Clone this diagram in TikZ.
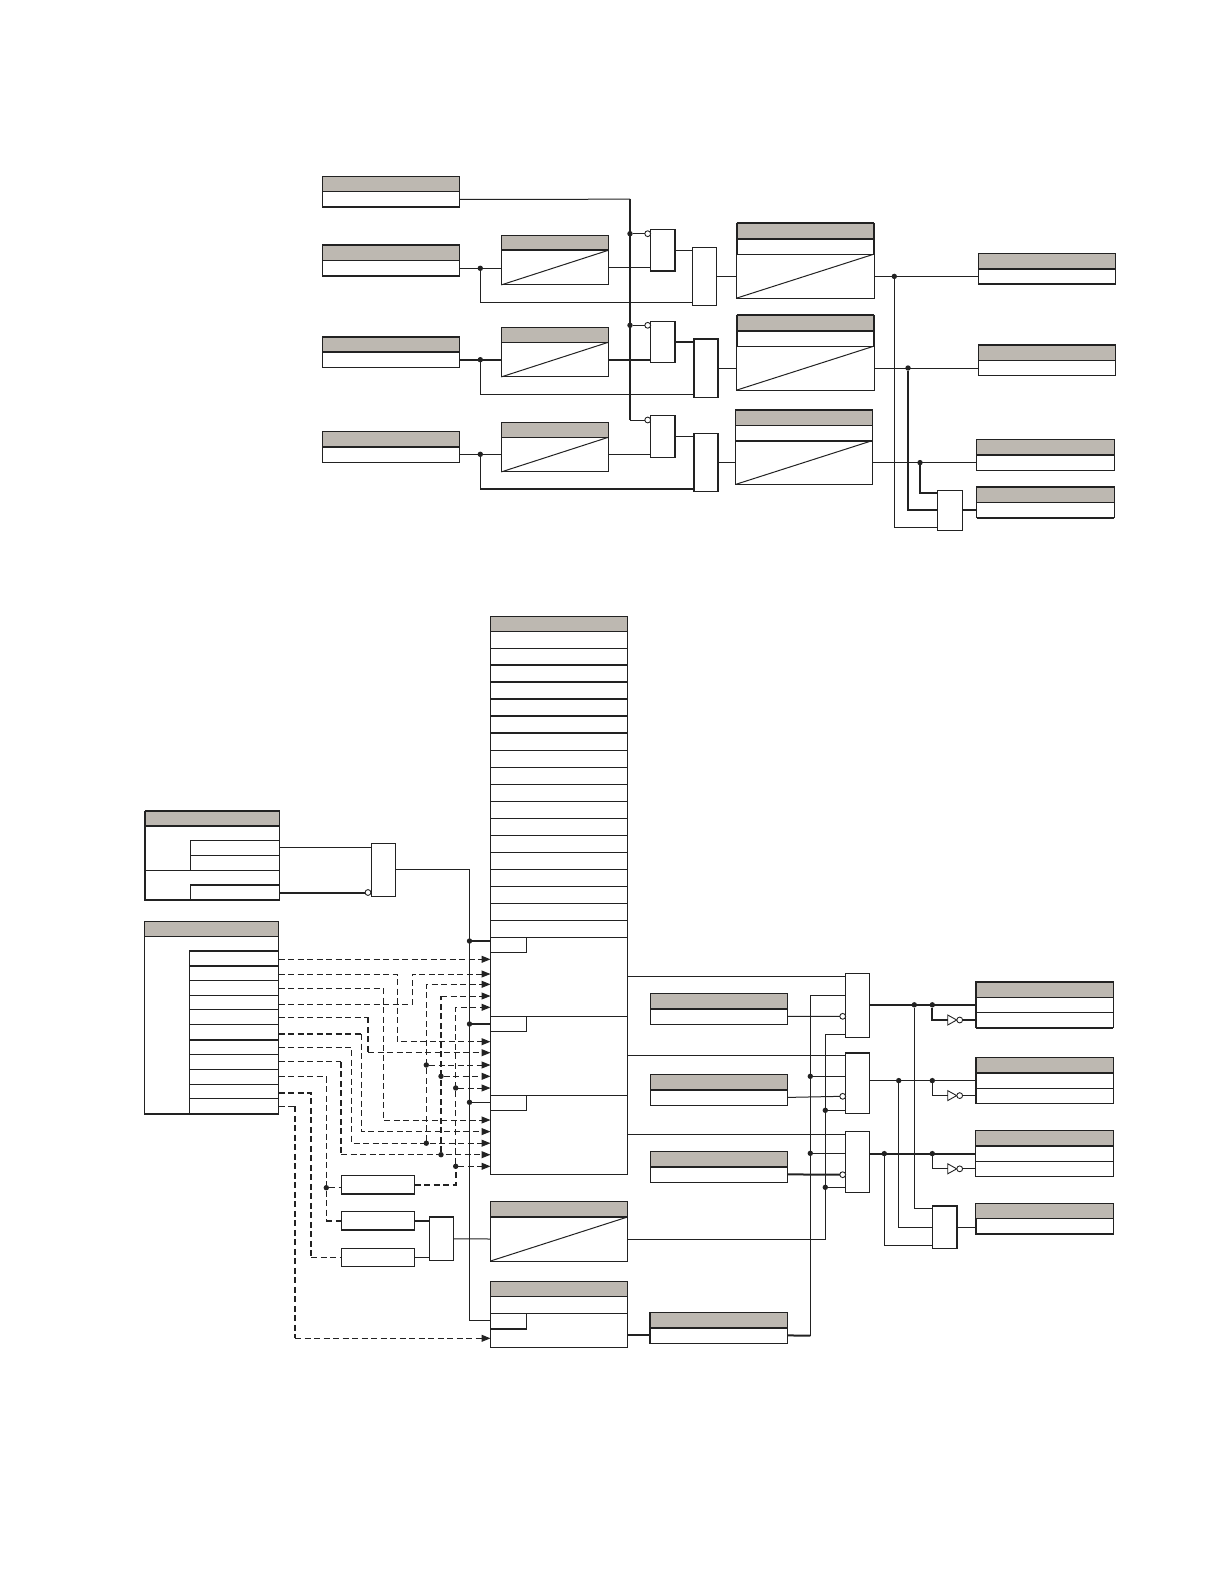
\documentclass[tikz,border=0pt]{standalone}
\usepackage{tikz}
\usetikzlibrary{arrows.meta, shapes.geometric, positioning}
\definecolor{headgray}{HTML}{BDB8B1}
\definecolor{inkgray}{HTML}{222222}
\begin{document}
\begin{tikzpicture}[
  x=1pt, y=-1pt,
  base/.style={draw=inkgray, line width=1pt, inner sep=0pt, outer sep=0pt},
  head/.style={base, fill=headgray, minimum width=137.4pt, minimum height=15.4pt, anchor=north west},
  cell/.style={base, fill=white, minimum width=137.4pt, minimum height=15.4pt},
  rhead/.style={head, minimum width=107pt, minimum height=15pt},
  rbody/.style={cell, minimum width=107pt, minimum height=34.6pt},
  lbody/.style={cell, minimum height=44pt},
  gate/.style={base, fill=white, minimum width=24.5pt, anchor=north west},
  mrow/.style={cell, minimum height=17pt},
  frow/.style={cell, minimum width=89.4pt, minimum height=14.82pt},
  small/.style={base, fill=white, minimum width=73.4pt, anchor=north west},
  sub/.style={base, fill=white, minimum width=36pt, minimum height=15.2pt, anchor=north west},
  dot/.style={circle, fill=inkgray, inner sep=0pt, outer sep=0pt, minimum size=5.4pt},
  bub/.style={circle, draw=inkgray, line width=0.9pt, fill=white, inner sep=0pt, outer sep=0pt, minimum size=5.8pt},
  inv/.style={isosceles triangle, isosceles triangle stretches, draw=inkgray, line width=0.9pt, fill=white,
    inner sep=0pt, outer sep=0pt, minimum width=10pt, minimum height=9pt, anchor=west},
  wire/.style={draw=inkgray, line width=1pt},
  heavy/.style={draw=inkgray, line width=2pt},
  sig/.style={draw=inkgray, line width=1pt, dash pattern=on 6pt off 3.5pt},
  sigh/.style={draw=inkgray, line width=2pt, dash pattern=on 6pt off 3.5pt},
  >={Triangle[length=9pt,width=7pt]}
]
\useasboundingbox (0,0) rectangle (1224,1584);

\node[head] (tA) at (322.3,176.3) {};
\node[cell, below=0pt of tA] (tAv) {};
\node[head] (tB) at (322.3,245) {};
\node[cell, below=0pt of tB] (tBv) {};
\node[head] (tC) at (322.3,336.7) {};
\node[cell, below=0pt of tC] (tCv) {};
\node[head] (tD) at (322.3,431.3) {};
\node[cell, below=0pt of tD] (tDv) {};

\node[rhead] (rB) at (501.3,235.3) {};
\node[rbody, below=0pt of rB] (rBb) {};
\node[rhead] (rC) at (501.3,327.3) {};
\node[rbody, below=0pt of rC] (rCb) {};
\node[rhead] (rD) at (501.3,422.3) {};
\node[rbody, below=0pt of rD] (rDb) {};

\node[gate, minimum width=25pt, minimum height=41.7pt] (gA) at (650.3,229.3) {};
\node[gate, minimum width=25pt, minimum height=41pt] (gB) at (650.3,321.3) {};
\node[gate, minimum width=25pt, minimum height=42pt] (gC) at (650.3,415.3) {};
\node[gate, minimum height=58pt] (hA) at (692.3,247.3) {};
\node[gate, minimum height=58.6pt] (hB) at (693.7,338.7) {};
\node[gate, minimum height=58pt] (hC) at (693.7,433.3) {};

\node[head] (lA) at (736.7,223.3) {};
\node[cell, below=0pt of lA] (lAm) {};
\node[lbody, below=0pt of lAm] (lAb) {};
\node[head] (lB) at (736.7,315.3) {};
\node[cell, below=0pt of lB] (lBm) {};
\node[lbody, below=0pt of lBm] (lBb) {};
\node[head] (lC) at (735.3,409.7) {};
\node[cell, below=0pt of lC] (lCm) {};
\node[lbody, below=0pt of lCm] (lCb) {};

\node[head] (oA) at (978.3,253.3) {};
\node[cell, below=0pt of oA] (oAv) {};
\node[head] (oB) at (978.3,344.7) {};
\node[cell, below=0pt of oB] (oBv) {};
\node[head] (oC) at (976.6,439.3) {};
\node[cell, below=0pt of oC] (oCv) {};
\node[head] (oD) at (976.6,486.7) {};
\node[cell, below=0pt of oD] (oDv) {};
\node[gate, minimum height=40.3pt] (oG) at (937.5,490) {};

\node[dot] (dB) at (480.3,268.3) {};
\node[dot] (dC) at (480.3,359.7) {};
\node[dot] (dD) at (480.3,454.3) {};
\node[dot] (dA) at (630,233.7) {};
\node[dot] (dE) at (630,325.3) {};
\node[bub] (bA) at (647.7,233.7) {};
\node[bub] (bB) at (647.7,325.3) {};
\node[bub] (bC) at (647.7,420) {};
\node[dot] (dO1) at (894.3,276.4) {};
\node[dot] (dO2) at (908,368) {};
\node[dot] (dO3) at (920,462.6) {};

\coordinate (busT) at (630,199.2);
\coordinate (lowB) at (480.3,302.3);
\coordinate (lowC) at (480.3,394.3);
\coordinate (lowD) at (480.3,488.7);

\draw[wire] (tAv.east) -- (busT);
\draw[heavy] (busT) -- (busT |- bC);
\draw[wire] (dA) -- (bA);
\draw[wire] (dE) -- (bB);
\draw[wire] (busT |- bC) -- (bC);
\draw[wire] (tBv.east) -- (rBb.west |- tBv.east);
\draw[heavy] (tCv.east) -- (rCb.west |- tCv.east);
\draw[wire] (tDv.east) -- (rDb.west |- tDv.east);
\draw[wire] (rBb.east) -- (gA.west |- rBb.east);
\draw[heavy] (rCb.east) -- (gB.west |- rCb.east);
\draw[wire] (rDb.east) -- (gC.west |- rDb.east);
\draw[wire] (dB) |- (hA.west |- lowB);
\draw[wire] (dC) |- (hB.west |- lowC);
\draw[wire] (dD) -- (lowD);
\draw[heavy] (lowD) -- (hC.west |- lowD);
\draw[wire] (gA.east) -- (hA.west |- gA.east);
\draw[heavy] (gB.east) -- (hB.west |- gB.east);
\draw[wire] (gC.east) -- (hC.west |- gC.east);
\draw[wire] (hA.east) -- (lAb.west |- hA.east);
\draw[wire] (hB.east) -- (lBb.west |- hB.east);
\draw[wire] (hC.east) -- (lCb.west |- hC.east);
\draw[wire] (lAb.east) -- (oAv.west |- lAb.east);
\draw[wire] (lBb.east) -- (oBv.west |- lBb.east);
\draw[wire] (lCb.east) -- (oCv.west |- lCb.east);
\draw[wire] (dO1) |- ([yshift=-17.2pt]oG.west);
\draw[heavy] (dO2) |- (oG.west);
\draw[heavy] (dO3) |- ([yshift=17.5pt]oG.west);
\draw[heavy] (oG.east) -- (oDv.west |- oG.east);

\draw[wire] (rBb.south west) -- (rBb.north east);
\draw[wire] (rCb.south west) -- (rCb.north east);
\draw[wire] (rDb.south west) -- (rDb.north east);
\draw[wire] (lAb.south west) -- (lAb.north east);
\draw[wire] (lBb.south west) -- (lBb.north east);
\draw[wire] (lCb.south west) -- (lCb.north east);

\draw[heavy] (tAv.south west) -- (tAv.south east) (tB.north west) -- (tB.north east)
  (tBv.south west) -- (tBv.south east) (tC.north west) -- (tC.north east)
  (tC.south west) -- (tC.south east) (tD.south west) -- (tD.south east)
  (rB.south west) -- (rB.south east) (gA.north east) -- (gA.south east) -- (gA.south west)
  (gB.north east) -- (gB.south east) (gC.north east) -- (gC.south east)
  (hB.south west) -- (hB.north west) -- (hB.north east) -- (hB.south east)
  (hC.south west) -- (hC.north west) (hC.north east) -- (hC.south east)
  (lA.north west) -- (lA.north east) (lA.south west) -- (lA.south east)
  (lA.north west) -- (lAm.south west) (lA.north east) -- (lAm.south east)
  (lB.north west) -- (lB.north east) (lB.south west) -- (lB.south east)
  (lB.north west) -- (lBm.south west) (lB.north east) -- (lBm.south east)
  (lC.north west) -- (lC.north east) (lCm.south west) -- (lCm.south east)
  (oA.south west) -- (oA.south east) (oAv.south west) -- (oAv.south east)
  (oB.north west) -- (oB.north east) (oC.south west) -- (oC.south east)
  (oD.north west) -- (oD.north east) (oDv.south west) -- (oDv.south east);

\node[mrow, head, minimum height=15.3pt, minimum width=137pt] (mH) at (490.5,616) {};
\node[mrow, minimum width=137pt, below=0pt of mH] (mR1) {};
\node[mrow, minimum width=137pt, below=0pt of mR1] (mR2) {};
\node[mrow, minimum width=137pt, below=0pt of mR2] (mR3) {};
\node[mrow, minimum width=137pt, below=0pt of mR3] (mR4) {};
\node[mrow, minimum width=137pt, below=0pt of mR4] (mR5) {};
\node[mrow, minimum width=137pt, below=0pt of mR5] (mR6) {};
\node[mrow, minimum width=137pt, below=0pt of mR6] (mR7) {};
\node[mrow, minimum width=137pt, below=0pt of mR7] (mR8) {};
\node[mrow, minimum width=137pt, below=0pt of mR8] (mR9) {};
\node[mrow, minimum width=137pt, below=0pt of mR9] (mR10) {};
\node[mrow, minimum width=137pt, below=0pt of mR10] (mR11) {};
\node[mrow, minimum width=137pt, below=0pt of mR11] (mR12) {};
\node[mrow, minimum width=137pt, below=0pt of mR12] (mR13) {};
\node[mrow, minimum width=137pt, below=0pt of mR13] (mR14) {};
\node[mrow, minimum width=137pt, below=0pt of mR14] (mR15) {};
\node[mrow, minimum width=137pt, below=0pt of mR15] (mR16) {};
\node[mrow, minimum width=137pt, below=0pt of mR16] (mR17) {};
\node[mrow, minimum width=137pt, below=0pt of mR17] (mR18) {};
\node[cell, minimum width=137pt, minimum height=78.7pt, below=0pt of mR18] (mA) {};
\node[cell, minimum width=137pt, minimum height=79pt, below=0pt of mA] (mB) {};
\node[cell, minimum width=137pt, minimum height=79.3pt, below=0pt of mB] (mC) {};
\node[sub] (mAs) at (mA.north west) {};
\node[sub] (mBs) at (mB.north west) {};
\node[sub] (mCs) at (mC.north west) {};

\node[head, minimum width=137pt, minimum height=15.3pt] (tT) at (490.5,1201.7) {};
\node[cell, minimum width=137pt, minimum height=44pt, below=0pt of tT] (tTb) {};
\node[head, minimum width=137pt, minimum height=14.6pt] (uH) at (490.5,1281.7) {};
\node[cell, minimum width=137pt, minimum height=17pt, below=0pt of uH] (uM) {};
\node[cell, minimum width=137pt, minimum height=34pt, below=0pt of uM] (uB) {};
\node[sub] (uS) at (uB.north west) {};

\node[head, minimum width=134pt, minimum height=15pt] (eH) at (145.3,810.7) {};
\node[cell, minimum width=134pt, minimum height=44.6pt, below=0pt of eH] (eU) {};
\node[cell, minimum width=134pt, minimum height=29.7pt, below=0pt of eU] (eL) {};
\node[frow, minimum width=89pt, minimum height=15pt, anchor=north west] (e1) at (190.3,840.3) {};
\node[frow, minimum width=89pt, minimum height=15pt, below=0pt of e1] (e2) {};
\node[frow, minimum width=89pt, minimum height=15pt, anchor=north west] (e3) at (190.3,885) {};
\node[gate, minimum height=53pt] (eG) at (371.3,843.3) {};
\node[bub] (bE) at (368,892.5) {};

\node[head, minimum width=134.4pt, minimum height=15pt] (fH) at (144.3,921.3) {};
\node[cell, minimum width=134.4pt, minimum height=177.4pt, below=0pt of fH] (fB) {};
\node[frow, anchor=north west] (f1) at (189.3,950.7) {};
\node[frow, below=0pt of f1] (f2) {};
\node[frow, below=0pt of f2] (f3) {};
\node[frow, below=0pt of f3] (f4) {};
\node[frow, below=0pt of f4] (f5) {};
\node[frow, below=0pt of f5] (f6) {};
\node[frow, below=0pt of f6] (f7) {};
\node[frow, below=0pt of f7] (f8) {};
\node[frow, below=0pt of f8] (f9) {};
\node[frow, below=0pt of f9] (f10) {};
\node[frow, below=0pt of f10] (f11) {};

\node[small, minimum height=18.7pt] (vA) at (341.3,1175.3) {};
\node[small, minimum height=18.7pt] (vB) at (341.3,1211.3) {};
\node[small, minimum height=18pt] (vC) at (341.3,1248.3) {};
\node[gate, minimum height=43pt] (wG) at (429.3,1217.3) {};

\node[head] (qA) at (650.3,993.3) {};
\node[cell, below=0pt of qA] (qAv) {};
\node[head] (qB) at (650.3,1074.3) {};
\node[cell, below=0pt of qB] (qBv) {};
\node[head] (qC) at (650.3,1151.3) {};
\node[cell, below=0pt of qC] (qCv) {};
\node[head] (qD) at (649.8,1312.3) {};
\node[cell, below=0pt of qD] (qDv) {};

\node[gate, minimum height=64pt] (pA) at (845.3,973.3) {};
\node[gate, minimum height=60.6pt] (pB) at (845.3,1052.7) {};
\node[gate, minimum height=61pt] (pC) at (845.3,1131.3) {};
\node[gate, minimum height=42.6pt] (sG) at (932.7,1205.7) {};

\node[head] (uA) at (975.8,981.7) {};
\node[cell, below=0pt of uA] (uAa) {};
\node[cell, below=0pt of uAa] (uAb) {};
\node[head] (uC) at (975.8,1057.7) {};
\node[cell, below=0pt of uC] (uCa) {};
\node[cell, below=0pt of uCa] (uCb) {};
\node[head] (uD) at (975.8,1130.3) {};
\node[cell, below=0pt of uD] (uDa) {};
\node[cell, below=0pt of uDa] (uDb) {};
\node[head] (uE) at (975.8,1203.3) {};
\node[cell, below=0pt of uE] (uEv) {};

\node[dot] (dM1) at (469.5,941) {};
\node[dot] (dM2) at (469.5,1024) {};
\node[dot] (dM3) at (469.5,1102.3) {};
\node[dot] (dQ1) at (810.3,1076.3) {};
\node[dot] (dQ2) at (810.3,1153.3) {};
\node[dot] (dT1) at (825.3,1110.3) {};
\node[dot] (dT2) at (825.3,1187.3) {};
\node[bub] (bQA) at (842.7,1016.3) {};
\node[bub] (bQB) at (842.7,1096.3) {};
\node[bub] (bQC) at (842.7,1174.7) {};

\node[dot] (dS1) at (914.3,1004.8) {};
\node[dot] (dR1) at (932.3,1004.8) {};
\node[dot] (dS2) at (898.7,1080.6) {};
\node[dot] (dR2) at (932.3,1080.6) {};
\node[dot] (dS3) at (884.3,1153.6) {};
\node[dot] (dR3) at (932.3,1153.6) {};
\node[inv] (nA) at (947.7,1020) {};
\node[inv] (nB) at (947.7,1095.6) {};
\node[inv] (nC) at (947.7,1168.8) {};
\node[bub] (bnA) at (959.7,1020) {};
\node[bub] (bnB) at (959.7,1095.6) {};
\node[bub] (bnC) at (959.7,1168.8) {};

\coordinate (busM) at (469.5,1102.3);
\coordinate (busQ) at (810.3,1335.7);
\coordinate (busQt) at (810.3,995.3);
\coordinate (busR) at (825.3,1239.3);
\coordinate (busRt) at (825.3,1034.3);

\draw[wire] (e1.east) -- (eG.west |- e1.east);
\draw[heavy] (e3.east) -- (bE);
\draw[wire] (eG.east) -| (busM) |- (uS.west);
\draw[heavy] (dM1) -- (mAs.west |- dM1);
\draw[heavy] (dM2) -- (mBs.west |- dM2);
\draw[wire] (dM3) -- (mCs.west |- dM3);
\draw[wire] (mA.east) -- (pA.west |- mA.east);
\draw[wire] (mB.east) -- (pB.west |- mB.east);
\draw[wire] (mC.east) -- (pC.west |- mC.east);
\draw[wire] (tTb.west) -- (wG.east);
\draw[wire] (tTb.east) -| (busRt) -- (pA.west |- busRt);
\draw[wire] (dT1) -- (pB.west |- dT1);
\draw[wire] (dT2) -- (pC.west |- dT2);
\draw[heavy] (uB.east |- qDv.west) -- (qDv.west);
\draw[heavy] (qDv.east) -- (busQ);
\draw[wire] (busQ) -- (busQt) -- (pA.west |- busQt);
\draw[wire] (dQ1) -- (pB.west |- dQ1);
\draw[wire] (dQ2) -- (pC.west |- dQ2);
\draw[wire] (qAv.east) -- (bQA);
\draw[wire] (qBv.east) -- (bQB);
\draw[heavy] (qCv.east) -- (bQC);
\draw[heavy] (pA.east |- dS1) -- (uAa.west |- dS1);
\draw[wire] (pB.east |- dS2) -- (uCa.west |- dS2);
\draw[heavy] (pC.east |- dS3) -- (uDa.west |- dS3);
\draw[heavy] (dR1) |- (nA.west);
\draw[wire] (dR2) |- (nB.west);
\draw[wire] (dR3) |- (nC.west);
\draw[heavy] (bnA) -- (uAb.west |- bnA);
\draw[wire] (bnB) -- (uCb.west |- bnB);
\draw[wire] (bnC) -- (uDb.west |- bnC);
\draw[wire] (dS1) |- ([yshift=18.7pt]sG.west);
\draw[wire] (dS2) |- (sG.west);
\draw[wire] (dS3) |- ([yshift=-18.3pt]sG.west);
\draw[wire] (sG.east) -- (uEv.west |- sG.east);
\draw[heavy] (vB.east) -- (wG.west |- vB.east);
\draw[wire] (vC.east) -- (wG.west |- vC.east);

\coordinate (pA1) at (490.5,959.3);
\coordinate (pA2) at (490.5,974);
\coordinate (pA3) at (490.5,984.3);
\coordinate (pA4) at (490.5,996);
\coordinate (pA5) at (490.5,1007.3);
\coordinate (pB1) at (490.5,1041.7);
\coordinate (pB2) at (490.5,1052.7);
\coordinate (pB3) at (490.5,1065);
\coordinate (pB4) at (490.5,1076.3);
\coordinate (pB5) at (490.5,1088);
\coordinate (pC1) at (490.5,1120);
\coordinate (pC2) at (490.5,1131.6);
\coordinate (pC3) at (490.5,1143.2);
\coordinate (pC4) at (490.5,1154.7);
\coordinate (pC5) at (490.5,1166.3);
\coordinate (pU) at (490.5,1338.3);
\coordinate (xA) at (412.3,0);
\coordinate (xB) at (397.3,0);
\coordinate (xC) at (383.3,0);
\coordinate (xD) at (368,0);
\coordinate (xE) at (361.5,0);
\coordinate (xF) at (351.5,0);
\coordinate (xG) at (341,0);
\coordinate (xH) at (326.3,0);
\coordinate (xI) at (311.3,0);
\coordinate (xJ) at (295,0);
\coordinate (s6) at ([yshift=-1.8pt]f6.east);
\coordinate (s10) at ([yshift=-1.5pt]f10.east);

\node[dot] (dB3) at (426.3,1065) {};
\node[dot] (dC3) at (426.3,1143.2) {};
\node[dot] (dB4) at (441,1076.3) {};
\node[dot] (dC4) at (441,1154.7) {};
\node[dot] (dB5) at (455.7,1088) {};
\node[dot] (dC5) at (455.7,1166.3) {};
\node[dot] (dV) at (326.3,1187.7) {};

\draw[sig,->] (f1.east |- pA1) -- (pA1);
\draw[sig,->] ([yshift=-1.4pt]f2.east) -| (xB |- pB1) -- (pB1);
\draw[sig,->] ([yshift=-0.5pt]f3.east) -| (xC |- pC1) -- (pC1);
\draw[sig,->] ([yshift=-1.7pt]f4.east) -| (xA |- pA2) -- (pA2);
\draw[sig] (f5.east) -- (f5.east -| xD);
\draw[sigh] (f5.east -| xD) -- (xD |- pB2);
\draw[sig,->] (xD |- pB2) -- (pB2);
\draw[sigh] (s6) -- (s6 -| xE);
\draw[sig,->] (s6 -| xE) -- (xE |- pC2) -- (pC2);
\draw[sig,->] (f7.east) -| (xF |- pC3) -- (pC3);
\draw[sig] (f8.east) -- (f8.east -| xG);
\draw[sigh] (f8.east -| xG) -- (xG |- pC4);
\draw[sig,->] (xG |- pC4) -- (pC4);
\draw[sig] (f9.east) -| (xH |- vB.west);
\draw[sigh] (xH |- vB.west) -- (vB.west);
\draw[sig] (dV) -- (vA.west |- dV);
\draw[sigh] (s10) -- (s10 -| xI) -- (xI |- vC.west);
\draw[sig] (xI |- vC.west) -- (vC.west);
\draw[sig] (f11.east) -- (f11.east -| xJ);
\draw[sigh] (f11.east -| xJ) -- (xJ |- pU);
\draw[sig,->] (xJ |- pU) -- (pU);
\draw[sig,->] (dC3) |- (pA3);
\draw[sig,->] (dB3) -- (pB3);
\draw[sigh] (dC4) -- (dC4 |- pA4);
\draw[sig,->] (dC4 |- pA4) -- (pA4);
\draw[sig,->] (dB4) -- (pB4);
\draw[sigh] (vA.east) -| (dC5);
\draw[sig,->] (dC5) |- (pA5);
\draw[sig,->] (dB5) -- (pB5);
\draw[sig,->] (dC5) -- (pC5);

\draw[wire] (tTb.south west) -- (tTb.north east);

\draw[heavy] (mR3.north west) -- (mR3.north east) (mR4.north west) -- (mR4.north east)
  (mR5.north west) -- (mR5.north east) (mR6.north west) -- (mR6.north east)
  (mR7.north west) -- (mR7.north east)
  (eH.north west) -- (eH.north east) (eH.south west) -- (eH.south east)
  (eH.north west) -- (eL.south west) -- (eL.south east)
  (e3.north west) -- (e3.north east)
  (fB.north west |- fB.south) -- (fB.south east)
  (f1.north west) -- (f1.north east) (f2.north west) -- (f2.north east)
  (f7.north west) -- (f7.north east)
  (tT.south west) -- (tT.south east) (uS.south west) -- (uS.south east)
  (vA.south west) -- (vA.south east) (vB.south west) -- (vB.south east)
  (wG.north west) -- (wG.north east) (pB.north west) -- (pB.north east)
  (sG.north west) -- (sG.north east) -- (sG.south east)
  (qA.south west) -- (qA.south east) (qB.south west) -- (qB.south east)
  (qC.south west) -- (qC.south east) (qD.south west) -- (qD.south east)
  (qD.north west) -- (qDv.south west)
  (uA.north west) -- (uA.north east) (uAb.south west) -- (uAb.south east)
  (uA.north west) -- (uAb.south west) (uC.south west) -- (uC.south east)
  (uCb.south west) -- (uC.north west) (uD.south west) -- (uD.south east)
  (uEv.south west) -- (uEv.south east) (uE.north west |- uEv.south) -- (uEv.north west);
\end{tikzpicture}
\end{document}
